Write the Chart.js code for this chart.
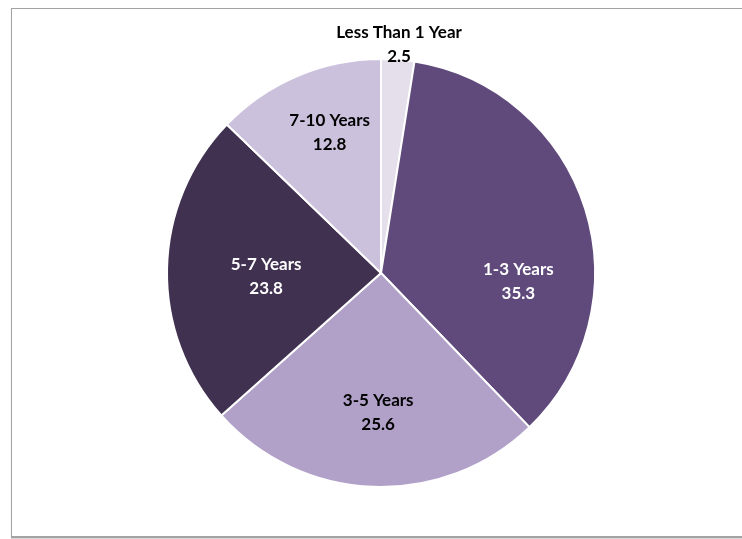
<!DOCTYPE html>
<html>
<head>
<meta charset="utf-8">
<script src="https://cdn.jsdelivr.net/npm/chart.js@4/dist/chart.umd.min.js"></script>
<style>
  html, body { margin: 0; padding: 0; background: #fff; }
  body { width: 742px; height: 539px; position: relative; overflow: hidden; }
  .frame {
    position: absolute; left: 11px; top: 8px; width: 760px; height: 527px;
    border: 1px solid #a3a3a3; border-bottom-width: 2px;
    box-shadow: 0 1px 1px rgba(0,0,0,0.15);
  }
  #wrap { position: absolute; left: 0; top: 0; width: 742px; height: 539px; }
</style>
</head>
<body>
<div class="frame"></div>
<div id="wrap"><canvas id="pieChart" width="742" height="539"></canvas></div>
<script>
// tenure buckets, clockwise from 12 o'clock
const categories = ['Less Than 1 Year', '1-3 Years', '3-5 Years', '5-7 Years', '7-10 Years']
const shares = [2.5, 35.3, 25.6, 23.8, 12.8]

const sliceColors = ['#e5dfec', '#5f4a7b', '#b1a1c8', '#413151', '#cbc1dc']
const labelColors = ['#000', '#fff', '#000', '#fff', '#000']

// label placement: distance as a fraction of the radius, nudge in degrees
const labelDist = [1.073, 0.643, 0.654, 0.537, 0.70]
const labelNudge = [0, 21, -1, -3, 3]

const sliceLabels = {
  id: 'sliceLabels',
  afterDatasetsDraw(chart) {
    const ctx = chart.ctx
    const meta = chart.getDatasetMeta(0)
    ctx.save()
    ctx.font = 'bold 17px Lato, "Open Sans", sans-serif'
    ctx.textAlign = 'center'
    ctx.textBaseline = 'middle'
    meta.data.forEach(function (arc, i) {
      const p = arc.getProps(['x', 'y', 'startAngle', 'endAngle', 'outerRadius'], true)
      const a = (p.startAngle + p.endAngle) / 2 + labelNudge[i] * Math.PI / 180
      const d = p.outerRadius * labelDist[i]
      const cx = p.x + Math.cos(a) * d
      const cy = p.y + Math.sin(a) * d
      ctx.fillStyle = labelColors[i]
      ctx.fillText(categories[i], cx, cy - 12)
      ctx.fillText(shares[i].toFixed(1), cx, cy + 12)
    })
    ctx.restore()
  }
}

const pie = new Chart(document.getElementById('pieChart'), {
  type: 'pie',
  data: {
    labels: categories,
    datasets: [{
      data: shares,
      backgroundColor: sliceColors,
      borderColor: '#fff',
      borderWidth: 2
    }]
  },
  options: {
    responsive: false,
    animation: false,
    devicePixelRatio: 1,
    layout: { padding: { top: 58, bottom: 51, left: 166, right: 146 } },
    plugins: {
      legend: { display: false },
      tooltip: { enabled: false }
    }
  },
  plugins: [sliceLabels]
})
</script>
</body>
</html>
